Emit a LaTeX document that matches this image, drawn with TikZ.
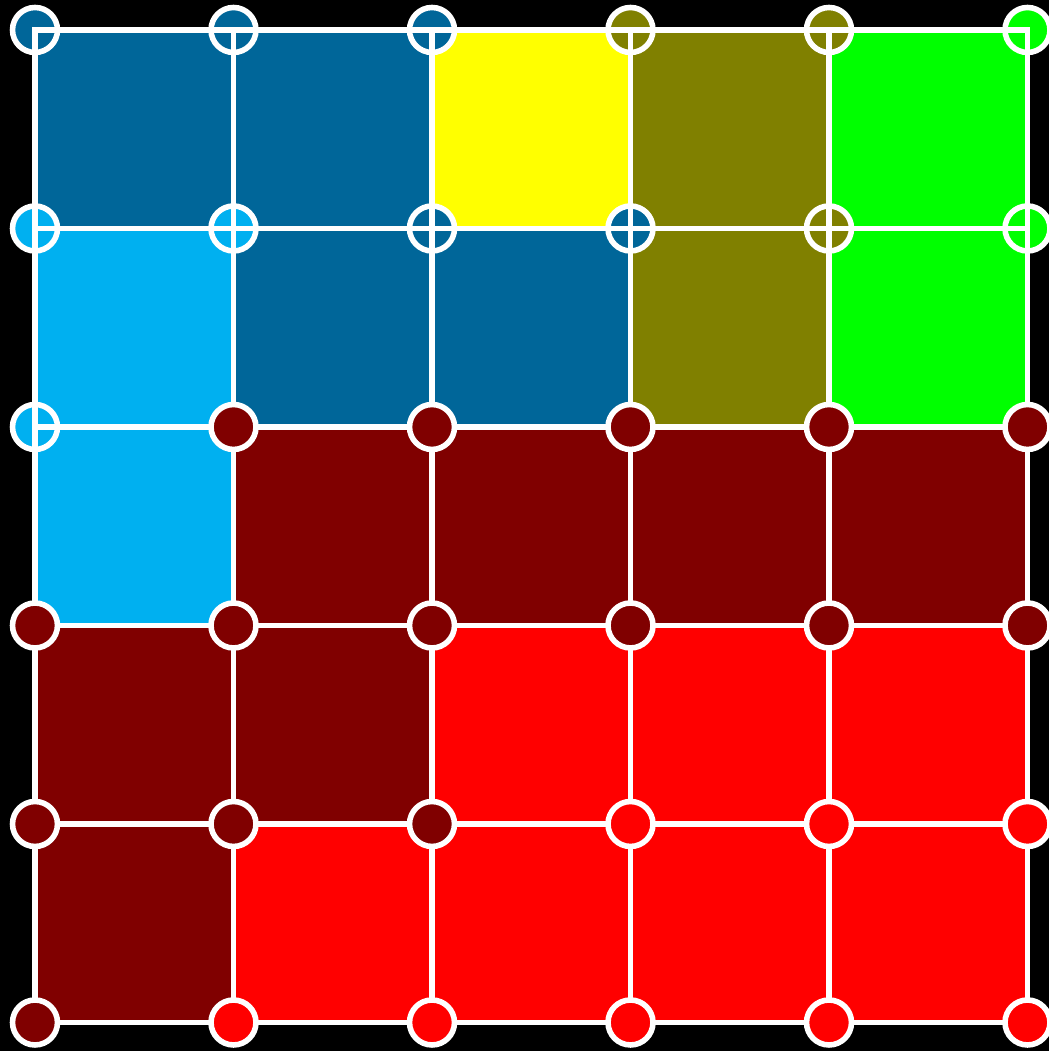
\documentclass[tikz,border=0pt]{standalone}
\definecolor{dblue}{HTML}{006699}
\definecolor{lblue}{HTML}{00B0F0}
\definecolor{olive}{HTML}{808000}
\definecolor{lime}{HTML}{00FF00}
\definecolor{yell}{HTML}{FFFF00}
\definecolor{maroon}{HTML}{800000}
\definecolor{bred}{HTML}{FF0000}
\tikzset{
  vtx/.style={circle,draw=white,line width=1.6pt,minimum size=0.453cm,inner sep=0pt},
  gridline/.style={draw=white,line width=1.6pt,line cap=rect}
}

\begin{document}
\begin{tikzpicture}[x=2cm,y=2cm,line join=miter]
  \fill[black] (-0.1763,-0.1436) rectangle (5.1083,5.1511);
  \useasboundingbox (-0.1763,-0.1436) rectangle (5.1083,5.1511);
  % grid points, row 0 on top
  \foreach \r in {0,...,5}
    \foreach \c in {0,...,5}
      \coordinate (p-\r-\c) at (\c,5-\r);
  % cells
  \foreach \r/\c/\col in {0/0/dblue,0/1/dblue,0/2/yell,0/3/olive,0/4/lime,
                          1/0/lblue,1/1/dblue,1/2/dblue,1/3/olive,1/4/lime,
                          2/0/lblue,2/1/maroon,2/2/maroon,2/3/maroon,2/4/maroon,
                          3/0/maroon,3/1/maroon,3/2/bred,3/3/bred,3/4/bred,
                          4/0/maroon,4/1/bred,4/2/bred,4/3/bred,4/4/bred}
    \fill[\col] (p-\r-\c) rectangle ++(1,-1);
  % vertices under the lines
  \foreach \r/\c/\col in {0/0/dblue,0/1/dblue,0/2/dblue,0/3/olive,0/4/olive,0/5/lime,
                          1/0/lblue,1/1/lblue,1/2/dblue,1/3/dblue,1/4/olive,1/5/lime,
                          2/0/lblue}
    \node[vtx,fill=\col] (v-\r-\c) at (p-\r-\c) {};
  % grid lines
  \foreach \r in {0,...,5}
    \foreach \c [count=\n] in {0,...,4}
      \draw[gridline] (p-\r-\c) -- (p-\r-\n);
  \foreach \c in {0,...,5}
    \foreach \r [count=\n] in {0,...,4}
      \draw[gridline] (p-\r-\c) -- (p-\n-\c);
  % vertices over the lines
  \foreach \r/\c/\col in {2/1/maroon,2/2/maroon,2/3/maroon,2/4/maroon,2/5/maroon,
                          3/0/maroon,3/1/maroon,3/2/maroon,3/3/maroon,3/4/maroon,3/5/maroon,
                          4/0/maroon,4/1/maroon,4/2/maroon,4/3/bred,4/4/bred,4/5/bred,
                          5/0/maroon,5/1/bred,5/2/bred,5/3/bred,5/4/bred,5/5/bred}
    \node[vtx,fill=\col] (v-\r-\c) at (p-\r-\c) {};
\end{tikzpicture}
\end{document}
